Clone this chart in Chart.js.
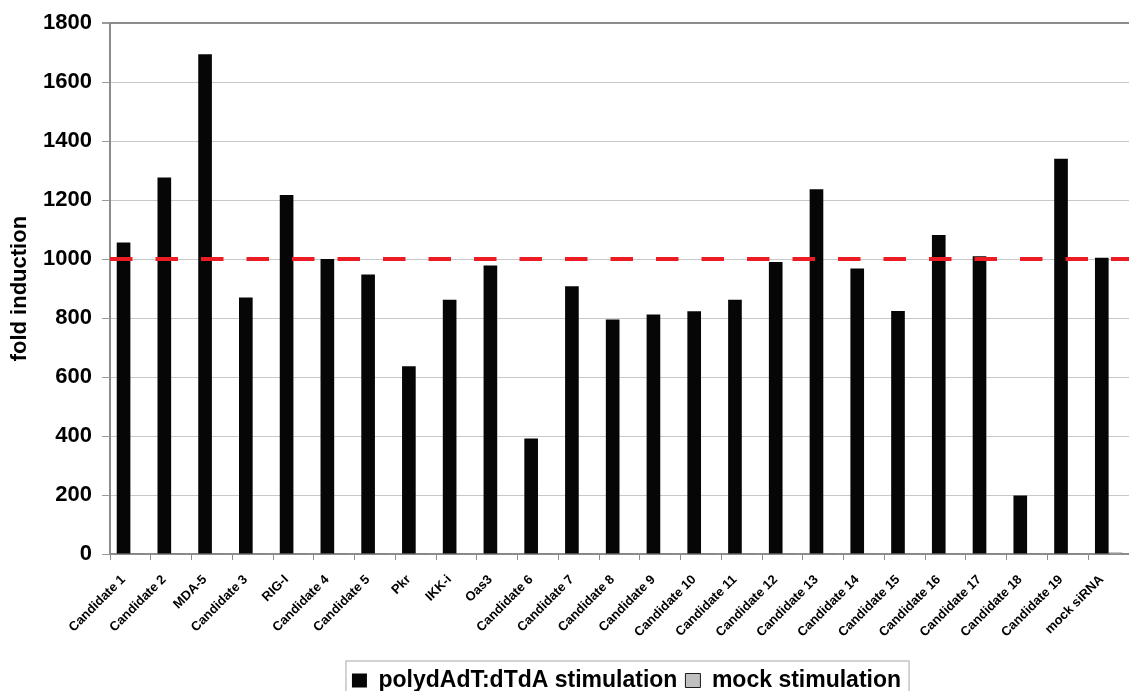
<!DOCTYPE html>
<html>
<head>
<meta charset="utf-8">
<script src="https://cdn.jsdelivr.net/npm/chart.js@4"></script>
<style>
html,body{margin:0;padding:0;background:#fff;}
canvas{display:block;}
</style>
</head>
<body>
<canvas id="c" width="1129" height="691"></canvas>
<script>
// ---- data ----
const categories = ['Candidate 1','Candidate 2','MDA-5','Candidate 3','RIG-I','Candidate 4','Candidate 5','Pkr','IKK-i','Oas3','Candidate 6','Candidate 7','Candidate 8','Candidate 9','Candidate 10','Candidate 11','Candidate 12','Candidate 13','Candidate 14','Candidate 15','Candidate 16','Candidate 17','Candidate 18','Candidate 19','mock siRNA'];
const stimulatedValues = [1056, 1277, 1695, 870, 1217, 1000, 948, 637, 862, 978, 392, 908, 795, 812, 823, 862, 990, 1237, 968, 824, 1082, 1010, 198, 1340, 1005];
const mockValues = [1, 1, 1, 1, 1, 1, 1, 1, 1, 1, 1, 1, 1, 1, 1, 1, 1, 1, 1, 1, 1, 1, 1, 1, 5];
const seriesNames = ['polydAdT:dTdA stimulation', 'mock stimulation'];
const yTicks = [0, 200, 400, 600, 800, 1000, 1200, 1400, 1600, 1800];
const thresholdValue = 1000;
const yTitle = 'fold induction';

// ---- styling ----
const FONT = "'Liberation Sans', Arial, Helvetica, sans-serif";
const PLOT_BOTTOM = 554;
const CANVAS_H = 691;
const LEGEND_TOP = 661;

const thresholdPlugin = {
  id: 'thresholdLine',
  afterDatasetsDraw(chart) {
    const y = chart.scales.y.getPixelForValue(thresholdValue);
    const {left, right} = chart.chartArea;
    const ctx = chart.ctx;
    ctx.save();
    ctx.strokeStyle = '#ed1c24';
    ctx.lineWidth = 4;
    ctx.setLineDash([22.5, 23]);
    ctx.beginPath();
    ctx.moveTo(left, y);
    ctx.lineTo(right, y);
    ctx.stroke();
    ctx.restore();
  }
};

const legendPlugin = {
  id: 'legendPlace',
  afterLayout(chart) {
    const lg = chart.legend;
    if (!lg) return;
    const ca = chart.chartArea;
    const h = lg.height;
    lg.left = ca.left + 14;
    lg.right = ca.right;
    lg.width = lg.right - lg.left;
    lg.top = LEGEND_TOP;
    lg.bottom = LEGEND_TOP + h;
  },
  afterDraw(chart) {
    const lg = chart.legend;
    if (!lg || !lg.legendHitBoxes || !lg.legendHitBoxes.length) return;
    const hb = lg.legendHitBoxes;
    const first = hb[0], last = hb[hb.length - 1];
    const ctx = chart.ctx;
    ctx.save();
    ctx.strokeStyle = '#c4c4c4';
    ctx.lineWidth = 1.5;
    const x0 = first.left - 6, x1 = last.left + last.width + 8;
    ctx.strokeRect(x0, LEGEND_TOP, x1 - x0, 60);
    ctx.restore();
  }
};

const chart = new Chart(document.getElementById('c'), {
  type: 'bar',
  data: {
    labels: categories,
    datasets: [
      {
        label: seriesNames[0],
        data: stimulatedValues,
        backgroundColor: '#060606',
        borderColor: '#060606',
        borderWidth: 0,
        categoryPercentage: 0.67,
        barPercentage: 1.0
      },
      {
        label: seriesNames[1],
        data: mockValues,
        backgroundColor: '#c0c0c0',
        borderColor: '#1a1a1a',
        borderWidth: 1,
        categoryPercentage: 0.67,
        barPercentage: 1.0
      }
    ]
  },
  options: {
    responsive: false,
    animation: false,
    layout: { padding: { top: 20, left: 0, right: 0, bottom: 0 } },
    plugins: {
      tooltip: { enabled: false },
      legend: {
        display: true,
        position: 'bottom',
        align: 'center',
        labels: {
          boxWidth: 15,
          boxHeight: 14,
          padding: 8,
          color: '#000',
          font: { family: FONT, size: 23, weight: 'bold' }
        }
      }
    },
    scales: {
      x: {
        grid: {
          offset: true,
          drawOnChartArea: false,
          drawTicks: true,
          tickLength: 6,
          color: '#8c8c8c'
        },
        border: { color: '#8c8c8c', width: 2 },
        ticks: {
          autoSkip: false,
          minRotation: 45,
          maxRotation: 45,
          padding: 12,
          labelOffset: -7,
          color: '#000',
          font: { family: FONT, size: 13, weight: 'bold' }
        },
        afterFit(s) {
          const lh = (s.chart.legend && s.chart.legend.height) || 0;
          s.height = CANVAS_H - PLOT_BOTTOM - lh;
          s.paddingRight = 0;
        }
      },
      y: {
        min: 0,
        max: 1800,
        afterBuildTicks(s) { s.ticks = yTicks.map(v => ({ value: v })); },
        afterFit(s) { s.width = 110; },
        grid: {
          color: c => (c.tick && c.tick.value === 1800) ? '#8c8c8c' : '#c8c8c8',
          lineWidth: c => (c.tick && c.tick.value === 1800) ? 2 : 1,
          tickLength: 8,
          tickColor: '#9a9a9a'
        },
        border: { color: '#8c8c8c', width: 2 },
        ticks: {
          padding: 10,
          color: '#000',
          font: { family: FONT, size: 22, weight: 'bold' },
          callback: v => String(v)
        },
        title: {
          display: true,
          text: yTitle,
          color: '#000',
          font: { family: FONT, size: 22, weight: 'bold' },
          padding: { top: 7, bottom: 0 }
        }
      }
    }
  },
  plugins: [thresholdPlugin, legendPlugin]
});
</script>
</body>
</html>
